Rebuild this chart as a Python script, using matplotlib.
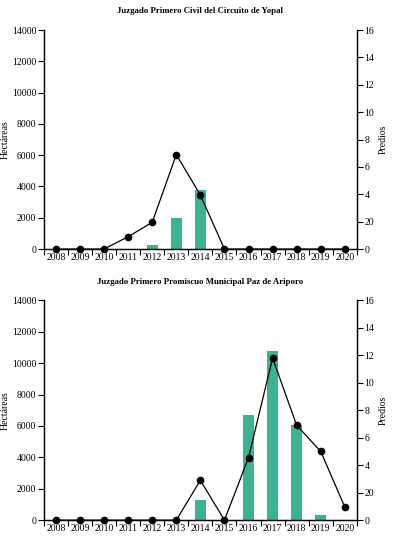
import numpy as np
import matplotlib
matplotlib.use("Agg")
import matplotlib.pyplot as plt

years = list(range(2008, 2021))

titles = [
    "Juzgado Primero Civil del Circuito de Yopal",
    "Juzgado Primero Promiscuo Municipal Paz de Ariporo",
]

# hectareas (bars, left axis)
hect_yopal = [0, 0, 0, 0, 260, 1990, 3770, 0, 0, 0, 0, 0, 0]
hect_paz = [0, 0, 0, 0, 0, 0, 1280, 0, 6680, 10750, 6050, 320, 0]

# predios (line, right axis)
pred_yopal = [0, 0, 0, 0.9, 1.95, 6.9, 3.95, 0, 0, 0, 0, 0, 0]
pred_paz = [0, 0, 0, 0, 0, 0, 2.9, 0, 4.55, 11.8, 6.9, 5.0, 0.95]

left_ticks = [0, 2000, 4000, 6000, 8000, 10000, 12000, 14000]
right_ticks = [0, 2, 4, 6, 8, 10, 12, 14, 16]
right_labels = ["0", "20", "4", "6", "8", "10", "12", "14", "16"]

BAR = "#3bb393"
plt.rcParams["font.family"] = ["Liberation Serif", "DejaVu Serif"]
FS = 7


def panel(fig, rect, title, hect, pred):
    ax = fig.add_axes(rect)
    ax2 = ax.twinx()
    x = np.array(years)
    ax.bar(x, hect, width=0.45, color=BAR, zorder=2)
    ax.set_xlim(2007.5, 2020.5)
    ax.set_ylim(0, 14000)
    ax.set_yticks(left_ticks)
    ax.set_yticklabels([str(t) for t in left_ticks], fontsize=FS)
    ax.set_xticks(x)
    ax.set_xticklabels([str(y) for y in years], fontsize=FS)
    ax.set_xticks(np.arange(2007.5, 2021, 1.0), minor=True)
    ax.tick_params(axis="x", which="major", length=0, pad=3)
    ax.tick_params(axis="x", which="minor", length=4, width=0.8, direction="out")
    ax.tick_params(axis="y", length=4, width=0.8, pad=1.5)
    ax.set_ylabel("Hectáreas", fontsize=FS)
    ax.yaxis.set_label_coords(-0.108, 0.5)
    ax.spines["top"].set_visible(False)
    for s in ax.spines.values():
        s.set_linewidth(0.9)

    ax2.plot(x, pred, color="black", lw=0.9, marker="o", ms=4.5, clip_on=False, zorder=3)
    ax2.set_ylim(0, 16)
    ax2.set_yticks(right_ticks)
    ax2.set_yticklabels(right_labels, fontsize=FS)
    ax2.tick_params(axis="y", length=4, width=0.8, pad=1.5)
    ax2.set_ylabel("Predios", fontsize=FS)
    ax2.yaxis.set_label_coords(1.07, 0.5)
    ax2.spines["top"].set_visible(False)
    for s in ax2.spines.values():
        s.set_linewidth(0.9)

    ax.set_title(title, fontsize=6.3, fontweight="bold", pad=12)
    return ax


fig = plt.figure(figsize=(4.06, 5.51), dpi=100)
panel(fig, [0.108, 0.548, 0.771, 0.3975], titles[0], hect_yopal, pred_yopal)
panel(fig, [0.108, 0.056, 0.771, 0.399], titles[1], hect_paz, pred_paz)
fig.savefig("out.png", dpi=100)
